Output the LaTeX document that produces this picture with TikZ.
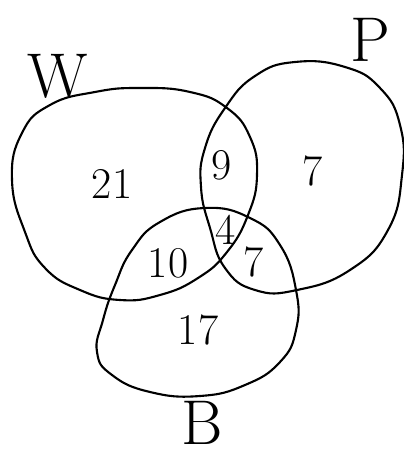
\documentclass[tikz,border=0pt]{standalone}
\usepackage{tikz}
\usetikzlibrary{positioning}

\begin{document}
\begin{tikzpicture}[
  x=0.02cm,y=-0.02cm,
  set/.style={draw=black,line width=1.2pt,line join=round},
  count/.style={font=\fontsize{25}{27}\selectfont,inner sep=0pt},
  setname/.style={font=\fontsize{36}{38}\selectfont,inner sep=0pt}
]
  \useasboundingbox (0,0) rectangle (404,459);

  %% ---- W (left set) ----
  \draw[set] plot[smooth cycle,tension=0.8] coordinates {
    (12,180) (22,133) (50,105) (95,92) (140,88) (190,92) (227,108)
    (250,137) (257,175) (248,215) (227,252) (198,278) (160,295)
    (120,300) (80,290) (45,268) (25,232)};

  %% ---- P (right set) ----
  \draw[set] plot[smooth cycle,tension=0.8] coordinates {
    (295,62) (345,67) (380,88) (400,125) (402,175) (388,230) (350,270)
    (297,290) (255,290) (225,268) (210,228) (201,187) (205,148)
    (225,108) (255,76)};

  %% ---- B (bottom set) ----
  \draw[set] plot[smooth cycle,tension=0.8] coordinates {
    (205,208) (250,218) (280,245) (296,290) (296,330) (280,362)
    (245,385) (200,396) (150,392) (112,375) (97,352) (103,320)
    (115,285) (132,250) (160,222)};

  %% ---- set names ----
  \node[setname] (nameW) at (58,76) {W};
  \node[setname] (nameP) at (370,40) {P};
  \node[setname] (nameB) at (202,423) {B};

  %% ---- region counts ----
  \node[count] (onlyW)  at (112,184) {21};
  \node[count] (WP)     at (222,165) {9};
  \node[count] (onlyP)  at (313,171) {7};
  \node[count] (WPB)    at (226,230) {4};
  \node[count] (WB)     at (168,263) {10};
  \node[count] (PB)     at (254,262) {7};
  \node[count] (onlyB)  at (198,330) {17};
\end{tikzpicture}
\end{document}
